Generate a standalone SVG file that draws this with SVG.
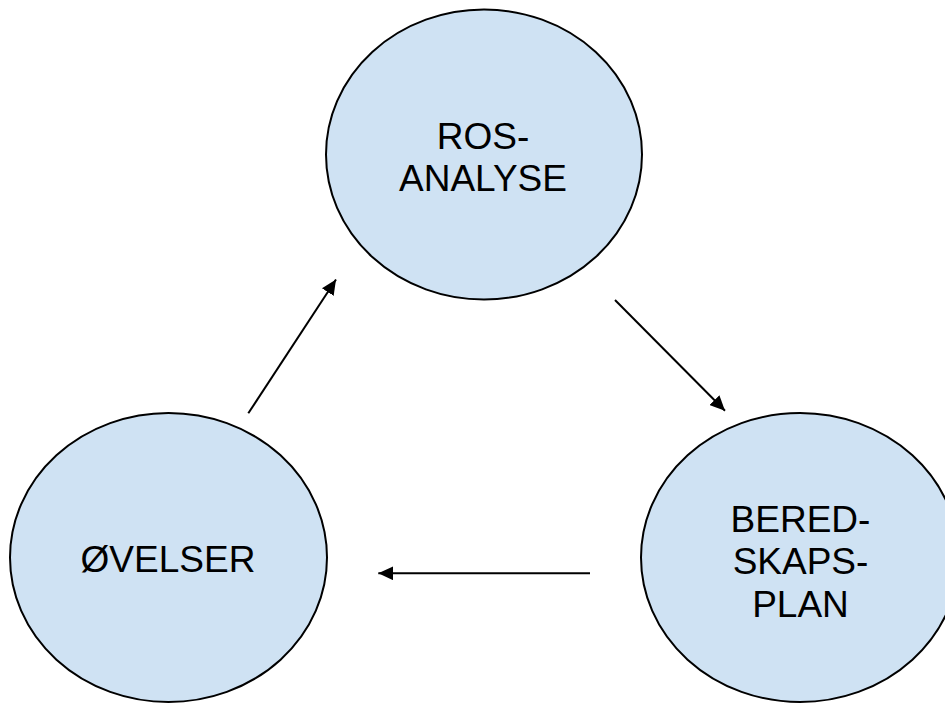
<svg xmlns="http://www.w3.org/2000/svg" width="945" height="703" viewBox="0 0 945 703">
<style>
.node{fill:#cfe2f3;stroke:#000;stroke-width:2}
.lbl{font-family:"Liberation Sans",Arial,sans-serif;font-size:37px;fill:#000;text-anchor:middle}
.edge{stroke:#000;stroke-width:2;fill:none;marker-end:url(#ah)}
</style>
<defs>
<marker id="ah" markerUnits="userSpaceOnUse" markerWidth="16" markerHeight="14" refX="15" refY="7" orient="auto">
<path d="M0,0 L15,7 L0,14 z" fill="#000"/>
</marker>
</defs>
<rect width="945" height="703" fill="#fff"/>
<g id="ros">
<ellipse class="node" cx="484" cy="154.5" rx="158" ry="145"/>
<text class="lbl" x="483" y="148.5">ROS-</text>
<text class="lbl" x="483" y="191">ANALYSE</text>
</g>
<g id="beredskapsplan">
<ellipse class="node" cx="800" cy="557.5" rx="159" ry="144.5"/>
<text class="lbl" x="800.5" y="532">BERED-</text>
<text class="lbl" x="800.5" y="574">SKAPS-</text>
<text class="lbl" x="800.5" y="616.5">PLAN</text>
</g>
<g id="ovelser">
<ellipse class="node" cx="168.5" cy="557.5" rx="158.5" ry="144.5"/>
<text class="lbl" x="168" y="571.5">ØVELSER</text>
</g>
<g id="connectors">
<line class="edge" x1="248.3" y1="413.3" x2="336" y2="279.5"/>
<line class="edge" x1="615" y1="300" x2="725" y2="410.7"/>
<line class="edge" x1="590" y1="573.3" x2="378.3" y2="573.3"/>
</g>
</svg>
